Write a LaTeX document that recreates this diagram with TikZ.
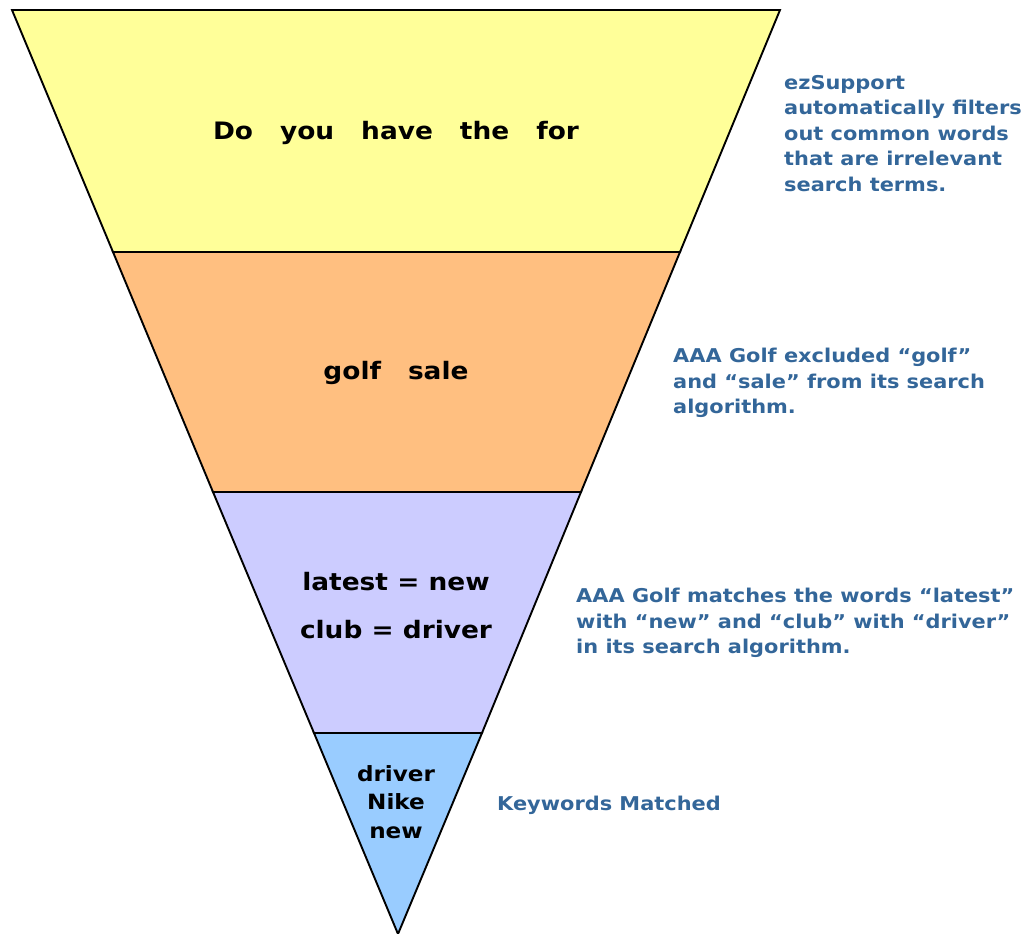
\documentclass[tikz,border=0pt]{standalone}
\usepackage{fontspec}
\setmainfont[FakeStretch=1.1]{DejaVu Sans}
\definecolor{bandyellow}{HTML}{FFFF99}
\definecolor{bandorange}{HTML}{FFBF80}
\definecolor{bandlilac}{HTML}{CCCCFF}
\definecolor{bandblue}{HTML}{99CCFF}
\definecolor{noteblue}{HTML}{336699}
\tikzset{
  band/.style={draw=black, line width=1.9pt, line join=miter},
  funneltext/.style={font=\bfseries\fontsize{24}{29}\selectfont, text=black, inner sep=0pt},
  notetext/.style={font=\bfseries\fontsize{19}{25.5}\selectfont, text=noteblue, align=left, anchor=north west, inner sep=0pt}
}
\begin{document}
\begin{tikzpicture}[x=1pt,y=1pt]
  \useasboundingbox (0,0) rectangle (1029,934);
  %%%%%%%%%%%%%The funnel corners%%%%%%%%%%%%%%%%%%%%%%
  \coordinate (tl) at (12,924);
  \coordinate (tr) at (780,924);
  \coordinate (al) at (113,682);
  \coordinate (ar) at (680,682);
  \coordinate (bl) at (213,442);
  \coordinate (br) at (581,442);
  \coordinate (cl) at (314,201);
  \coordinate (cr) at (482,201);
  \coordinate (tip) at (398,0);

  %%%%%%%%%%%%%The four bands%%%%%%%%%%%%%%%%%%%%%%
  \draw[band, fill=bandyellow] (tl) -- (tr) -- (ar) -- (al) -- cycle;
  \draw[band, fill=bandorange] (al) -- (ar) -- (br) -- (bl) -- cycle;
  \draw[band, fill=bandlilac] (bl) -- (br) -- (cr) -- (cl) -- cycle;
  \draw[band, fill=bandblue] (cl) -- (cr) -- (tip) -- cycle;

  %%%%%%%%%%%%%Words inside the funnel%%%%%%%%%%%%%%%%%%%%%%
  \node[funneltext] (query) at (396,801) {Do\hspace{27pt}you\hspace{27pt}have\hspace{27pt}the\hspace{27pt}for};
  \node[funneltext] (excluded) at (396,561) {golf\hspace{27pt}sale};
  \node[funneltext] (synone) at (396,352) {latest = new};
  \node[funneltext] (syntwo) at (396,304) {club = driver};
  \node[funneltext, align=center, font=\bfseries\fontsize{21}{28.5}\selectfont] (matched) at (396,132) {driver\\Nike\\new};

  %%%%%%%%%%%%%Notes on the right%%%%%%%%%%%%%%%%%%%%%%
  \node[notetext] (notefilter) at (784,859) {ezSupport\\automatically filters\\out common words\\that are irrelevant\\search terms.};
  \node[notetext] (noteexclude) at (673,586) {AAA Golf excluded “golf”\\and “sale” from its search\\algorithm.};
  \node[notetext] (notematch) at (576,346) {AAA Golf matches the words “latest”\\with “new” and “club” with “driver”\\in its search algorithm.};
  \node[notetext] (notekeys) at (497,138) {Keywords Matched};
\end{tikzpicture}
\end{document}
